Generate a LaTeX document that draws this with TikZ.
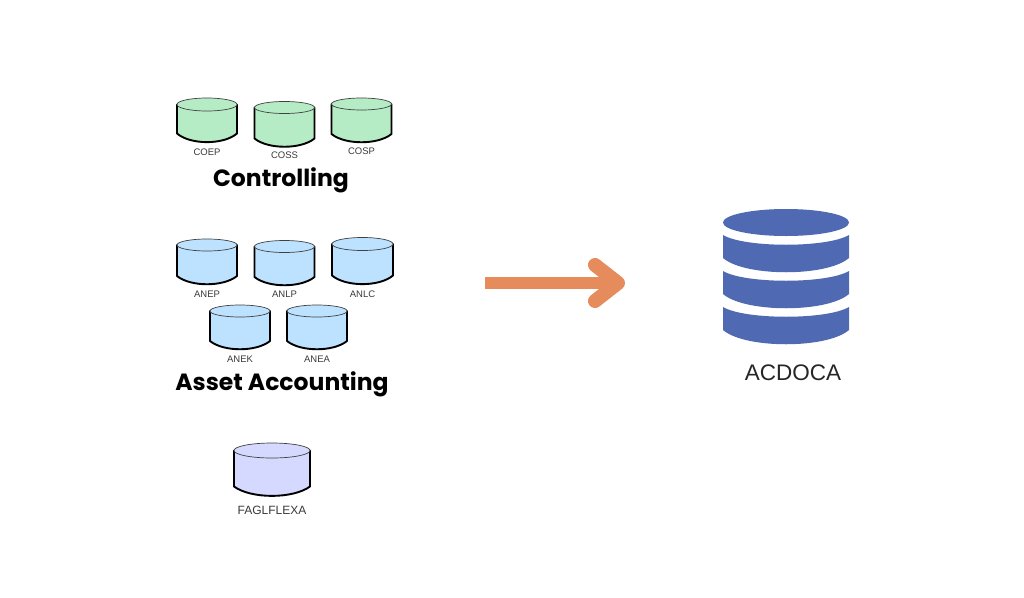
\documentclass[tikz,border=0pt]{standalone}
\usepackage{fontspec}
\setmainfont{Liberation Sans}
\newfontfamily\headfont{Poppins}
\definecolor{tgreen}{HTML}{B6ECC5}
\definecolor{tblue}{HTML}{BDE2FF}
\definecolor{tlav}{HTML}{D6D9FF}
\definecolor{dbblue}{HTML}{4F6AB2}
\definecolor{arrowc}{HTML}{E58B5C}
\definecolor{labelc}{HTML}{3A3A3A}
\tikzset{
  tablabel/.style={font=\fontsize{9.5}{9.5}\selectfont, text=labelc, inner sep=0pt},
  headlabel/.style={font=\headfont\bfseries\fontsize{23.5}{24}\selectfont, text=black, inner sep=0pt},
  rimline/.style={draw=black!75, line width=0.7pt},
  wallline/.style={draw=black, line width=1.9pt, line cap=round, line join=round},
  bigseg/.style={fill=dbblue, draw=none}
}
% name, cx, ellipse centre y, bottom y, rx, ry, colour, label, label y
\newcommand{\tabledb}[9]{%
  \path[fill=#7] (#2-#5,#3) -- (#2-#5,#4-#6-2) .. controls (#2-#5*0.55,#4+3) and (#2+#5*0.55,#4+3) .. (#2+#5,#4-#6-2) -- (#2+#5,#3) -- cycle;
  \draw[wallline] (#2-#5,#3) -- (#2-#5,#4-#6-2) .. controls (#2-#5*0.55,#4+3) and (#2+#5*0.55,#4+3) .. (#2+#5,#4-#6-2) -- (#2+#5,#3);
  \draw[rimline, fill=#7] (#2,#3) ellipse [x radius=#5, y radius=#6];
  \node[tablabel] (#1) at (#2,#9) {#8};
}
% one band of the large database
\newcommand{\bigband}[3]{%
  \path[bigseg] (723,#1) .. controls (745,#2+3) and (827,#2+3) .. (849,#1) -- (849,#3) .. controls (827,#3+19) and (745,#3+19) .. (723,#3) -- cycle;
}
\begin{document}
\begin{tikzpicture}[x=1pt,y=-1pt]
\useasboundingbox (0,0) rectangle (1024,597);
\path[fill=white] (0,0) rectangle (1024,597);

\tabledb{coep}{207}{104.5}{142}{30}{6.5}{tgreen}{COEP}{152}
\tabledb{coss}{284.5}{107.5}{146.5}{30}{6}{tgreen}{COSS}{155.5}
\tabledb{cosp}{361.5}{104}{142}{30}{6}{tgreen}{COSP}{151.5}
\node[headlabel] (ctrl) at (281,180.5) {Controlling};

\tabledb{anep}{207}{245}{284}{30}{6}{tblue}{ANEP}{294}
\tabledb{anlp}{284.5}{246.5}{285}{30}{6}{tblue}{ANLP}{294.5}
\tabledb{anlc}{362.5}{244}{284}{30.5}{6.5}{tblue}{ANLC}{294.5}
\tabledb{anek}{240}{311}{349}{30}{6}{tblue}{ANEK}{359}
\tabledb{anea}{317}{311}{349}{30}{6}{tblue}{ANEA}{359}
\node[headlabel] (asset) at (282,384.5) {Asset Accounting};

\tabledb{fagl}{272}{450.5}{496}{38}{7.5}{tlav}{\fontsize{12}{12}\selectfont FAGLFLEXA}{510.5}

% large database
\path[bigseg] (786,222.5) ellipse [x radius=63, y radius=13.5];
\bigband{235}{245}{258}
\bigband{271}{281}{294}
\bigband{307}{317}{330}
\node[inner sep=0pt, text=black!85, font=\fontsize{22.5}{23}\selectfont] (acdoca) at (793,373) {ACDOCA};

% arrow
\coordinate (arrowstart) at (485,283);
\coordinate (arrowtip) at (618,283);
\coordinate (armtop) at (595,265);
\coordinate (armbot) at (595,301);
\draw[arrowc, line width=11.5pt] (arrowstart) -- (arrowtip);
\draw[arrowc, line width=14pt, line cap=round, line join=round] (armtop) -- (arrowtip) -- (armbot);
\end{tikzpicture}
\end{document}
